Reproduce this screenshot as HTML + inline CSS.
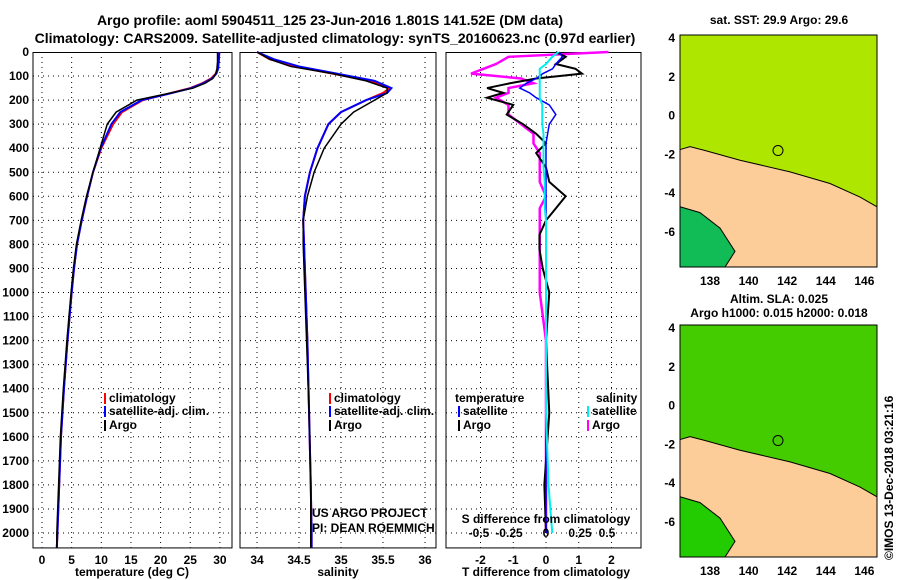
<!DOCTYPE html>
<html><head><meta charset="utf-8"><style>
body{margin:0;background:#fff}
svg{display:block;font-family:"Liberation Sans",sans-serif}
.t{font-weight:bold;font-size:14px}
.k{font-weight:bold;font-size:12px}
</style></head><body>
<svg id="c" width="900" height="580">
<text class="t" x="330" y="25" text-anchor="middle">Argo profile: aoml 5904511_125 23-Jun-2016 1.801S 141.52E (DM data)</text>
<text class="t" x="335" y="43" text-anchor="middle">Climatology: CARS2009. Satellite-adjusted climatology: synTS_20160623.nc (0.97d earlier)</text>
</svg>
<script>
const depthT=[0,40,70,90,110,130,150,175,200,250,300,400,500,600,700,800,900,1000,1200,1400,1600,1800,2000,2060];
const tempClim=[29.9,29.8,29.6,29.3,28.5,27,25,21,17,13.5,12,10,8.6,7.6,6.7,5.9,5.4,5.0,4.3,3.7,3.2,2.9,2.6,2.5];
const tempSat=[29.9,29.8,29.7,29.4,28.7,27.2,25.2,21.2,16.8,13.2,11.7,9.9,8.6,7.6,6.7,5.9,5.4,5.0,4.3,3.7,3.2,2.9,2.6,2.5];
const tempArgo=[29.6,29.6,29.5,29.3,28.8,27.5,25.5,20.8,16,12.5,11,9.8,8.6,7.5,6.6,5.8,5.3,4.9,4.2,3.6,3.1,2.8,2.5,2.5];
const depthS=[0,30,60,90,120,150,170,200,250,300,400,500,600,700,800,900,1000,1200,1500,1800,2000,2060];
const salClim=[34.0,34.15,34.45,34.9,35.35,35.58,35.5,35.3,35.0,34.85,34.72,34.63,34.57,34.55,34.56,34.57,34.58,34.6,34.62,34.64,34.65,34.65];
const salSat=[34.0,34.2,34.5,34.95,35.4,35.6,35.55,35.3,35.0,34.85,34.72,34.63,34.57,34.55,34.56,34.57,34.58,34.6,34.62,34.64,34.65,34.65];
const salArgo=[34.0,34.15,34.4,34.9,35.3,35.55,35.55,35.4,35.15,35.0,34.8,34.68,34.6,34.55,34.55,34.56,34.57,34.59,34.62,34.64,34.64,34.64];
const depthD=[0,20,50,70,90,110,130,150,170,190,220,260,300,340,380,420,480,540,600,650,700,760,820,900,1000,1200,1500,1800,2000];
const tDiffArgo=[0.3,0.6,0.3,0.9,1.1,-0.3,-1.1,-1.8,-1.3,-1.8,-1.0,-1.2,-0.7,-0.3,0,-0.3,0,0.1,0.6,0.3,0,-0.2,-0.2,-0.1,0.1,0,0.1,-0.05,0];
const tDiffSat=[0.4,0.5,0.3,0.2,-0.1,-0.3,-0.6,-0.8,-0.5,-0.3,0.1,0.3,0.1,0.05,0,0,0,0,0,0,0,0,0,0,0,0,0,0,0];
const sDiffArgo=[0.5,-0.3,-0.4,-0.5,-0.6,-0.2,-0.1,-0.3,-0.3,-0.4,-0.3,-0.3,-0.2,-0.1,-0.1,-0.05,-0.05,-0.05,0,-0.05,-0.05,-0.05,-0.05,-0.05,-0.05,0,0,0,0];
const sDiffSat=[0.1,0.05,0.0,-0.05,-0.05,-0.05,-0.05,-0.05,-0.05,-0.05,-0.03,-0.03,-0.03,-0.02,-0.02,-0.02,-0.02,-0.01,-0.01,-0.01,0,0,0,0,0,0,0,0.02,0.05];
const depthTicks=[0,100,200,300,400,500,600,700,800,900,1000,1100,1200,1300,1400,1500,1600,1700,1800,1900,2000];
const tTicks=[0,5,10,15,20,25,30];
const sTicks=[34,34.5,35,35.5,36];
const dTTicks=[-2,-1,0,1,2];
const dSTicks=[-0.5,-0.25,0,0.25,0.5];
const dSLabels=['-0.5','-0.25','0','0.25','0.5'];
const lonTicks=[138,140,142,144,146];
const latTicks=[4,2,0,-2,-4,-6];

const svg=document.getElementById('c');const NS='http://www.w3.org/2000/svg';
function el(t,a,p){const e=document.createElementNS(NS,t);for(const k in a)e.setAttribute(k,a[k]);(p||svg).appendChild(e);return e;}
function txt(x,y,s,anchor,cls){const e=el('text',{x:x,y:y,'text-anchor':anchor||'middle',class:cls||'k'});e.textContent=s;return e;}
const Y=d=>52+d*0.2405;
function panel(x0,x1,xs,ticks,fmt,name){
  const g=el('g',{});
  
  
  el('rect',{x:x0,y:Y(0)+0.5,width:x1-x0,height:Y(2060)-Y(0),fill:'#fff',stroke:'#000','stroke-width':1},g);
  depthTicks.forEach(d=>{if(d>0)el('line',{x1:x0,x2:x1,y1:Y(d),y2:Y(d),stroke:'#000','stroke-dasharray':'1 4'},g);});
  ticks.forEach(v=>{const x=xs(v);el('line',{x1:x,x2:x,y1:Y(0),y2:Y(2060),stroke:'#000','stroke-dasharray':'1 4'},g);
    if(fmt){const t=txt(x,564,fmt(v));g.appendChild(t);}});
  return g;
}
function line(xs,vals,deps,color,w,name){
  const p=el('polyline',{points:vals.map((v,i)=>xs(v)+','+Y(deps[i])).join(' '),fill:'none',stroke:color,'stroke-width':w});
  
  
}
const xT=v=>42+v*5.93;
panel(33,232,xT,tTicks,v=>v,'temperature-panel');
depthTicks.forEach(d=>{txt(29,Y(d)+4,d,'end');});
line(xT,tempClim,depthT,'#f00',2,'temperature-climatology');
line(xT,tempSat,depthT,'#00f',2,'temperature-satellite');
line(xT,tempArgo,depthT,'#000',1.5,'temperature-argo');
txt(132,576,'temperature (deg C)');
const xS=v=>257+(v-34)*84;
panel(240,436,xS,sTicks,v=>v,'salinity-panel');
line(xS,salClim,depthS,'#f00',2,'salinity-climatology');
line(xS,salSat,depthS,'#00f',2,'salinity-satellite');
line(xS,salArgo,depthS,'#000',1.5,'salinity-argo');
txt(338,576,'salinity');
const xD=v=>546+v*32.75, xSD=v=>546+v*125;
panel(446,641,xD,dTTicks,v=>v,'difference-panel');
line(xSD,sDiffArgo,depthD,'#f0f',2.5,'salinity-diff-argo');
line(xD,tDiffArgo,depthD,'#000',2,'temperature-diff-argo');
line(xD,tDiffSat,depthD,'#00f',1.5,'temperature-diff-satellite');
line(xSD,sDiffSat,depthD,'#0ee',2,'salinity-diff-satellite');
const sdx=[479,509,546,580,607];
dSTicks.forEach((v,i)=>txt(sdx[i],537,dSLabels[i]));
txt(546,523,'S difference from climatology');
txt(546,576,'T difference from climatology');
function leg(x,y,c,s,n){const r=el('rect',{x:x,y:y-9,width:2,height:11,fill:c});const t=txt(x+5,y,s,'start','');t.setAttribute('font-size','12');}
leg(104,402,'#f00','climatology','legend-climatology');leg(104,415,'#00f','satellite-adj. clim.','legend-satellite');leg(104,429,'#000','Argo','legend-argo');
leg(329,402,'#f00','climatology','legend2-climatology');leg(329,415,'#00f','satellite-adj. clim.','legend2-satellite');leg(329,429,'#000','Argo','legend2-argo');
txt(455,402,'temperature','start','');txt(596,402,'salinity','start','');
leg(458,415,'#00f','satellite','legend3-t-satellite');leg(458,429,'#000','Argo','legend3-t-argo');
leg(587,415,'#0ee','satellite','legend3-s-satellite');leg(587,429,'#f0f','Argo','legend3-s-argo');
txt(312,517,'US ARGO PROJECT','start','').setAttribute('font-size','12');
txt(312,532,'PI: DEAN ROEMMICH','start','').setAttribute('font-size','12');
function map(y0,seaCol,sea2,name){
  const g=el('g',{});
  const lat0=y0+3, LY=v=>lat0+(4-v)*19.4;
  el('rect',{x:680,y:y0,width:197,height:232,fill:seaCol},g);
  el('path',{d:`M680,${LY(-1.75)} L690,${LY(-1.6)} L705,${LY(-1.8)} L740,${LY(-2.3)} L790,${LY(-2.9)} L830,${LY(-3.5)} L860,${LY(-4.2)} L877,${LY(-4.7)} L877,${y0+232} L680,${y0+232}Z`,fill:'#fccc99',stroke:'#000','stroke-width':1},g);
  el('path',{d:`M680,${LY(-4.7)} L700,${LY(-5)} L720,${LY(-5.8)} L735,${LY(-7)} L725,${y0+232} L680,${y0+232}Z`,fill:sea2,stroke:'#000','stroke-width':1},g);
  el('circle',{cx:778,cy:LY(-1.8),r:5,fill:'none',stroke:'#000'},g);
  el('rect',{x:680,y:y0,width:197,height:232,fill:'none',stroke:'#000'},g);
  latTicks.forEach(v=>{txt(675,LY(v)+4,v,'end');});
  lonTicks.forEach(v=>{txt(710+(v-138)*19.3,y0+250,v);});
}
map(35,'#aee600','#11bb55','sst-map');
map(325,'#44cc00','#22cc00','sla-map');
txt(779,24,'sat. SST: 29.9 Argo: 29.6');
txt(779,303,'Altim. SLA: 0.025');
txt(779,317,'Argo h1000: 0.015 h2000: 0.018');
const r=txt(893,560,'©IMOS 13-Dec-2018 03:21:16','start','');r.setAttribute('font-size','11');r.setAttribute('transform','rotate(-90 893 560)');
</script>
</body></html>
